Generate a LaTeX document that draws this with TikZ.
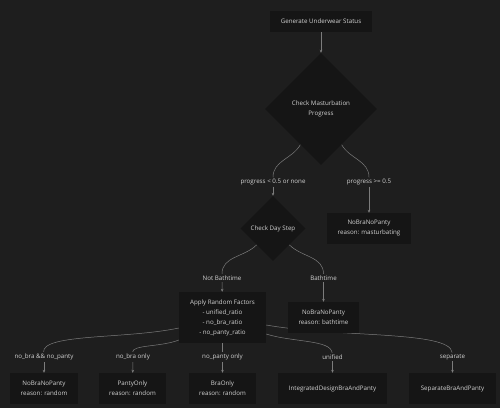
\documentclass[tikz,border=0pt]{standalone}
\usepackage{fontspec}
\setmainfont{Open Sans}
\usetikzlibrary{shapes.geometric, arrows.meta, backgrounds}
\definecolor{bgdark}{HTML}{1E1E1E}
\definecolor{nodedark}{HTML}{151515}
\definecolor{linegray}{HTML}{7C7C7C}
\definecolor{textgray}{HTML}{D2D2D2}
\begin{document}
\begin{tikzpicture}[x=1pt, y=1pt, font=\fontsize{6.2}{10}\selectfont, text=textgray,
box/.style={rectangle, fill=nodedark, align=center, inner sep=0pt, minimum height=31pt},
decision/.style={diamond, aspect=1, fill=nodedark, align=center, inner sep=0pt},
lbl/.style={fill=bgdark, inner sep=1.5pt},
line/.style={draw=linegray, line width=0.5pt},
arrow/.style={-{Stealth[length=3pt, width=2.6pt]}, draw=linegray, line width=0.5pt}]
\useasboundingbox (0,0) rectangle (500,408);
% top of the chart
\node[box, minimum width=102pt, minimum height=21pt] (gen) at (321,386.5) {Generate Underwear Status};
\node[decision, minimum size=112pt] (cmp) at (321,299) {Check Masturbation\\Progress};
\node[lbl] (lowp) at (273,226) {progress < 0.5 or none};
\node[lbl] (highp) at (369,226) {progress >= 0.5};
\node[decision, minimum size=65pt] (day) at (273,179.5) {Check Day Step};
\node[box, minimum width=84pt] (mast) at (369,179.5) {NoBraNoPanty\\reason: masturbating};
% day step
\node[lbl] (notbath) at (222,130) {Not Bathtime};
\node[lbl] (bath) at (323.5,130) {Bathtime};
\node[box, minimum width=87pt, minimum height=51pt] (apply) at (222.5,90.5) {Apply Random Factors\\- unified\_ratio\\- no\_bra\_ratio\\- no\_panty\_ratio};
\node[box, minimum width=71pt] (bathbox) at (323.5,90.5) {NoBraNoPanty\\reason: bathtime};
% random outcomes
\node[lbl] (lboth) at (44,51) {no\_bra \&\& no\_panty};
\node[lbl] (lnobra) at (133,51) {no\_bra only};
\node[lbl] (lnopanty) at (222.5,51) {no\_panty only};
\node[lbl] (lunified) at (332.5,51) {unified};
\node[lbl] (lseparate) at (452.5,51) {separate};
\node[box, minimum width=68pt] (nbnp) at (44,19.5) {NoBraNoPanty\\reason: random};
\node[box, minimum width=67pt] (panty) at (132.5,19.5) {PantyOnly\\reason: random};
\node[box, minimum width=67pt] (bra) at (222.5,19.5) {BraOnly\\reason: random};
\node[box, minimum width=109pt] (integ) at (332.5,19.5) {IntegratedDesignBraAndPanty};
\node[box, minimum width=87pt] (sep) at (452.5,19.5) {SeparateBraAndPanty};
% connectors, behind the nodes
\begin{scope}[on background layer]
\fill[bgdark] (0,0) rectangle (500,408);
\draw[arrow] (gen) -- (cmp);
\draw[line] (cmp) to[out=-120, in=90] (lowp);
\draw[arrow] (lowp) -- (day);
\draw[line] (cmp) to[out=-60, in=90] (highp);
\draw[arrow] (highp) -- (mast);
\draw[line] (day) to[out=-135, in=90] (notbath);
\draw[arrow] (notbath) -- (apply);
\draw[line] (day) to[out=-45, in=90] (bath);
\draw[arrow] (bath) -- (bathbox);
\draw[line] ([yshift=-10.5pt]apply.west) to[out=-168, in=95, in looseness=0.35] (lboth);
\draw[arrow] (lboth) -- (nbnp);
\draw[line] ([yshift=-22.5pt]apply.west) to[out=-158, in=95, in looseness=0.4] (lnobra);
\draw[arrow] (lnobra) -- (panty);
\draw[line] (apply) -- (lnopanty);
\draw[arrow] (lnopanty) -- (bra);
\draw[line] ([yshift=-16.5pt]apply.east) to[out=-18, in=95, in looseness=0.5] (lunified);
\draw[arrow] (lunified) -- (integ);
\draw[line] ([yshift=-7.5pt]apply.east) to[out=-10, in=95, in looseness=0.3] (lseparate);
\draw[arrow] (lseparate) -- (sep);
\end{scope}
\end{tikzpicture}
\end{document}
